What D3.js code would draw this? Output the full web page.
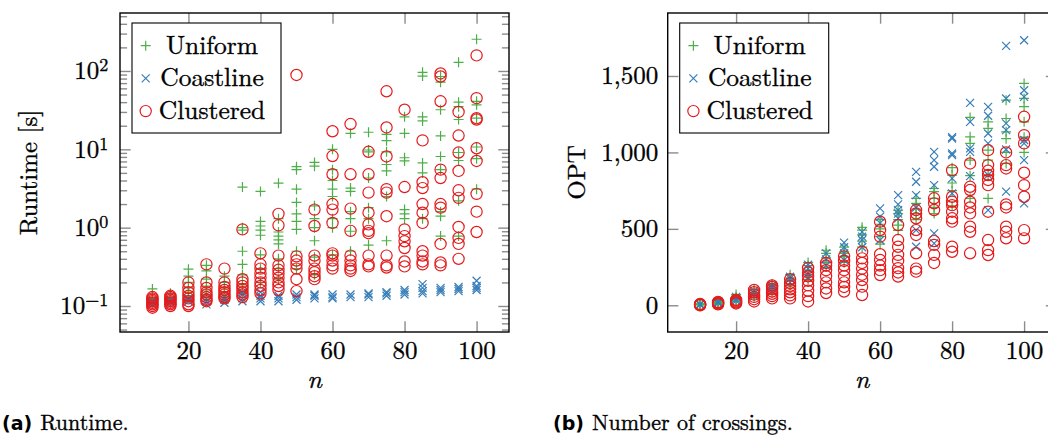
<!DOCTYPE html>
<html>
<head>
<meta charset="utf-8">
<script src="https://cdn.jsdelivr.net/npm/d3@7"></script>
<style>
  body { margin: 0; background: #fff; }
  svg { display: block; }
  text { stroke: #000; stroke-width: 0.35px; }
</style>
</head>
<body>
<svg id="chart" width="1048" height="435"></svg>
<script>
// instance sizes
var nValues = [10, 15, 20, 25, 30, 35, 40, 45, 50, 55, 60, 65, 70, 75, 80, 85, 90, 95, 100];

// runtime in seconds, one list per n
var runtimeUniform = [
  [0.165, 0.125, 0.12, 0.115, 0.11, 0.12],
  [0.145, 0.13, 0.125, 0.12, 0.115, 0.11],
  [0.295, 0.24, 0.2, 0.17, 0.15, 0.135, 0.125],
  [0.33, 0.28, 0.22, 0.18, 0.16, 0.14, 0.13],
  [0.24, 0.2, 0.17, 0.15, 0.14, 0.13],
  [3.3, 1.0, 0.93, 0.5, 0.34, 0.25, 0.18, 0.15],
  [2.9, 1.2, 1.05, 0.93, 0.8, 0.45, 0.3, 0.2],
  [3.7, 1.3, 0.88, 0.78, 0.7, 0.62, 0.4, 0.3, 0.22],
  [6.0, 5.5, 3.1, 2.1, 1.5, 1.2, 0.95, 0.5, 0.3],
  [6.8, 6.1, 1.9, 1.3, 1.0, 0.68, 0.42, 0.25],
  [10, 5.5, 4.0, 3.1, 2.5, 1.3, 1.0, 0.45],
  [16, 3.2, 2.9, 1.6, 1.3, 0.9, 0.5],
  [16.5, 9.8, 9.3, 4.3, 1.8, 1.3, 0.6],
  [15.5, 12.9, 9.3, 6.4, 5.3, 2.5, 0.68],
  [26, 16, 7.8, 7.1, 1.7, 1.5, 1.3],
  [96, 86, 26, 23, 6.7, 5.0, 1.3],
  [85, 72, 32, 14.8, 8.1, 5.5, 1.6, 1.4, 0.78],
  [129, 40, 35, 24, 9.1, 7.2, 2.2, 0.78],
  [254, 41, 37, 25, 10.7, 7.6, 3.1]
];
var runtimeCoastline = [
  [0.105, 0.11, 0.115],
  [0.11, 0.115, 0.12],
  [0.115, 0.12, 0.125],
  [0.105, 0.115, 0.125],
  [0.11, 0.12, 0.13],
  [0.115, 0.125, 0.14, 0.15],
  [0.115, 0.125, 0.135, 0.15],
  [0.115, 0.125, 0.135],
  [0.12, 0.13, 0.14],
  [0.125, 0.135, 0.14],
  [0.125, 0.13, 0.14],
  [0.13, 0.14],
  [0.13, 0.14, 0.145],
  [0.135, 0.145, 0.15],
  [0.14, 0.15, 0.16],
  [0.145, 0.155, 0.17, 0.19],
  [0.15, 0.16, 0.17],
  [0.155, 0.165, 0.175],
  [0.16, 0.17, 0.18, 0.21]
];
var runtimeClustered = [
  [0.095, 0.1, 0.105, 0.11, 0.115, 0.12, 0.125, 0.13],
  [0.1, 0.105, 0.11, 0.115, 0.12, 0.125, 0.13, 0.135],
  [0.2, 0.17, 0.15, 0.135, 0.125, 0.115, 0.105, 0.1],
  [0.34, 0.2, 0.17, 0.15, 0.14, 0.13, 0.12, 0.115],
  [0.3, 0.2, 0.175, 0.16, 0.15, 0.14, 0.13, 0.125],
  [0.95, 0.22, 0.2, 0.18, 0.165, 0.15, 0.14, 0.13],
  [0.47, 0.34, 0.3, 0.26, 0.23, 0.2, 0.18, 0.16, 0.145],
  [1.5, 1.07, 0.44, 0.33, 0.29, 0.26, 0.23, 0.2, 0.18, 0.16],
  [89, 0.43, 0.38, 0.34, 0.3, 0.22, 0.155],
  [1.7, 1.05, 0.44, 0.38, 0.3, 0.27, 0.24, 0.22],
  [17, 8.2, 4.8, 2.0, 1.7, 1.15, 0.47, 0.44, 0.38, 0.33, 0.3],
  [21, 4.8, 1.75, 0.91, 0.44, 0.38, 0.33, 0.3, 0.28],
  [9.3, 4.8, 2.8, 1.55, 1.1, 0.91, 0.85, 0.44, 0.34, 0.32],
  [55, 19, 8.1, 3.1, 2.8, 1.4, 0.44, 0.33, 0.31],
  [32, 3.3, 0.95, 0.78, 0.67, 0.55, 0.37, 0.32],
  [13, 3.8, 3.2, 2.0, 1.55, 1.15, 0.5, 0.44, 0.37, 0.34],
  [93, 85, 41, 5.5, 4.3, 2.0, 1.8, 0.62, 0.36, 0.33],
  [30, 15, 9.1, 5.3, 3.0, 2.4, 1.02, 0.74, 0.62, 0.4],
  [158, 45, 25, 24, 10.3, 7.1, 2.7, 1.6, 0.88]
];

// number of crossings (OPT), one list per n
var optUniform = [
  [2, 4, 6, 8, 10],
  [10, 14, 18, 22, 26],
  [25, 35, 45, 55, 70],
  [50, 65, 80, 95, 100],
  [80, 100, 115, 130, 140],
  [130, 160, 180, 200],
  [170, 200, 230, 260, 280],
  [250, 280, 310, 340, 360],
  [280, 320, 340, 350, 380],
  [380, 420, 460, 492, 510],
  [400, 450, 500, 530, 560],
  [490, 525, 560, 600, 623],
  [560, 600, 630, 667, 700],
  [600, 640, 700, 743, 764],
  [650, 750, 800, 852, 900],
  [700, 848, 950, 1059, 1102, 1229],
  [699, 850, 950, 1015, 1157, 1200],
  [928, 1000, 1090, 1135, 1222, 1342],
  [1000, 1100, 1200, 1300, 1353, 1451]
];
var optCoastline = [
  [3, 6, 9],
  [14, 20, 26],
  [30, 42, 55],
  [60, 80, 95],
  [95, 115, 131],
  [150, 175, 187],
  [180, 210, 240, 265],
  [260, 300, 340],
  [296, 340, 380, 410],
  [380, 427, 449, 480],
  [427, 537, 580, 634],
  [569, 600, 623, 660, 721],
  [383, 492, 640, 721, 808, 873],
  [405, 470, 786, 906, 950, 1004],
  [732, 830, 982, 993, 1091, 1100],
  [845, 1004, 1026, 1200, 1324],
  [623, 852, 1059, 1124, 1240, 1298],
  [744, 1019, 1146, 1190, 1353, 1697],
  [667, 950, 1059, 1081, 1363, 1407, 1734]
];
var optClustered = [
  [0, 2, 4, 6, 8],
  [6, 10, 14, 18, 22],
  [12, 18, 24, 30, 36],
  [25, 40, 55, 70, 85, 100],
  [45, 60, 75, 90, 105, 120, 130],
  [45, 65, 85, 105, 125, 145, 170],
  [25, 60, 95, 130, 160, 190, 215, 244],
  [80, 110, 150, 190, 230, 260, 277],
  [90, 120, 150, 190, 230, 260, 290, 320],
  [67, 122, 165, 200, 240, 277, 307, 350],
  [198, 230, 260, 296, 334, 449, 492, 547],
  [188, 215, 243, 290, 330, 383, 427, 525],
  [220, 240, 340, 460, 492, 569, 600, 623],
  [277, 330, 395, 420, 623, 667, 700],
  [350, 383, 547, 569, 612, 655, 677, 710, 884],
  [340, 481, 514, 601, 640, 677, 754, 775, 928],
  [329, 361, 427, 612, 786, 820, 852, 880, 917, 1015],
  [438, 481, 514, 640, 660, 895, 917, 1000],
  [438, 492, 710, 786, 867, 1059, 1113, 1233]
];

var seriesNames = ["Uniform", "Coastline", "Clustered"];
var xTicks = [20, 40, 60, 80, 100];
var optTicks = [0, 500, 1000, 1500];
var logMajor = [0.1, 1, 10, 100];

var colors = { Uniform: "#4daf4a", Coastline: "#377eb8", Clustered: "#e41a1c" };
var markPath = {
  Uniform: "M-5,0H5M0,-5V5",
  Coastline: "M-4,-4L4,4M-4,4L4,-4"
};

var serif = "'Latin Modern Roman', 'Liberation Serif', serif";
var svg = d3.select("#chart");
var tickLen = 10.7, minorLen = 7.1;

function flatten(lists) {
  var out = [];
  lists.forEach(function(vals, i) {
    vals.forEach(function(v) { out.push({ n: nValues[i], v: v }); });
  });
  return out;
}

function drawMarks(g, name, data, x, y) {
  if (name == "Clustered") {
    g.selectAll(".m-" + name).data(data).enter().append("circle")
      .attr("class", "m-" + name)
      .attr("cx", function(d) { return x(d.n); })
      .attr("cy", function(d) { return y(d.v); })
      .attr("r", 5.6)
      .attr("fill", "none")
      .attr("stroke", colors[name])
      .attr("stroke-width", 1.2);
  } else {
    g.selectAll(".m-" + name).data(data).enter().append("path")
      .attr("class", "m-" + name)
      .attr("transform", function(d) { return "translate(" + x(d.n) + "," + y(d.v) + ")"; })
      .attr("d", markPath[name])
      .attr("fill", "none")
      .attr("stroke", colors[name])
      .attr("stroke-width", 1.2);
  }
}

function styleAxis(sel) {
  sel.attr("font-family", serif);
  sel.select(".domain").remove();
  sel.selectAll(".tick line").attr("stroke", "#8c8c8c").attr("stroke-width", 1.4);
  sel.selectAll(".tick text").attr("font-family", serif).attr("font-size", 25).attr("fill", "#000");
}

function drawPanel(p) {
  var x = d3.scaleLinear().domain([1, 109]).range([p.left, p.right]);
  var y = p.y;
  var g = svg.append("g");

  // inward ticks on all four sides
  g.append("g").attr("transform", "translate(0," + p.bottom + ")")
    .call(d3.axisBottom(x).tickValues(xTicks).tickSize(-tickLen).tickPadding(9.5))
    .call(styleAxis);
  g.append("g").attr("transform", "translate(0," + p.top + ")")
    .call(d3.axisTop(x).tickValues(xTicks).tickSize(-tickLen).tickFormat(""))
    .call(styleAxis);

  if (p.log) {
    var minor = [];
    [0.01, 0.1, 1, 10, 100].forEach(function(b) {
      for (var k = 2; k <= 9; k++) {
        var v = b * k;
        if (v > y.domain()[0] && v < y.domain()[1]) minor.push(v);
      }
    });
    [[d3.axisLeft, p.left], [d3.axisRight, p.right]].forEach(function(a) {
      g.append("g").attr("transform", "translate(" + a[1] + ",0)")
        .call(a[0](y).tickValues(minor).tickSize(-minorLen).tickFormat(""))
        .call(styleAxis);
    });
    var left = g.append("g").attr("transform", "translate(" + p.left + ",0)")
      .call(d3.axisLeft(y).tickValues(logMajor).tickSize(-tickLen).tickPadding(11.7))
      .call(styleAxis);
    left.selectAll(".tick text").each(function(d) {
      var t = d3.select(this).text("10");
      t.append("tspan").attr("dy", "-0.45em").attr("font-size", 18)
        .text(String(Math.round(Math.log10(d))).replace("-", "\u2212"));
    });
    g.append("g").attr("transform", "translate(" + p.right + ",0)")
      .call(d3.axisRight(y).tickValues(logMajor).tickSize(-tickLen).tickFormat(""))
      .call(styleAxis);
  } else {
    g.append("g").attr("transform", "translate(" + p.left + ",0)")
      .call(d3.axisLeft(y).tickValues(optTicks).tickSize(-tickLen).tickPadding(9.4).tickFormat(d3.format(",")))
      .call(styleAxis);
    g.append("g").attr("transform", "translate(" + p.right + ",0)")
      .call(d3.axisRight(y).tickValues(optTicks).tickSize(-tickLen).tickFormat(""))
      .call(styleAxis);
  }

  // markers in plot order: Uniform, Coastline, Clustered
  p.series.forEach(function(s, i) {
    drawMarks(g, seriesNames[i], flatten(s), x, y);
  });

  // frame
  g.append("rect")
    .attr("x", p.left).attr("y", p.top)
    .attr("width", p.right - p.left).attr("height", p.bottom - p.top)
    .attr("fill", "none").attr("stroke", "#000").attr("stroke-width", 1.4);

  // legend
  var lg = g.append("g").attr("transform", "translate(" + (p.left + 12) + ",23)");
  lg.append("rect").attr("width", 149).attr("height", 110)
    .attr("fill", "#fff").attr("stroke", "#000").attr("stroke-width", 1.1);
  seriesNames.forEach(function(name, i) {
    var cy = 22.7 + i * 32.7;
    drawMarks(lg, name, [{ n: 0, v: 0 }],
      function() { return 13.7; }, function() { return cy; });
    lg.append("text").attr("x", 80).attr("y", cy + 7.8)
      .attr("text-anchor", "middle").attr("font-family", serif).attr("font-size", 25.5).text(name);
  });

  // axis labels
  svg.append("text")
    .attr("x", (p.left + p.right) / 2).attr("y", 388)
    .attr("text-anchor", "middle").attr("font-family", serif).attr("font-size", 26).attr("font-style", "italic")
    .text("n");
  svg.append("text")
    .attr("transform", "translate(" + p.ylabelX + "," + ((p.top + p.bottom) / 2) + ") rotate(-90)")
    .attr("text-anchor", "middle").attr("font-family", serif).attr("font-size", 25)
    .text(p.ylabel);

  // caption
  var cap = svg.append("text").attr("x", p.capX).attr("y", 430).attr("font-family", serif).attr("font-size", 22);
  cap.append("tspan").attr("font-family", "'DejaVu Sans'").attr("font-weight", "bold")
    .attr("stroke-width", 0).attr("font-size", 19).text(p.capTag);
  cap.append("tspan").attr("dx", 8).text(p.capText);
}

drawPanel({
  left: 120, right: 509, top: 13, bottom: 332,
  y: d3.scaleLog().domain([0.04656, 549.5]).range([332, 13]),
  log: true,
  series: [runtimeUniform, runtimeCoastline, runtimeClustered],
  ylabel: "Runtime [s]", ylabelX: 36.5,
  capX: 2, capTag: "(a)", capText: "Runtime."
});

drawPanel({
  left: 667.7, right: 1056.5, top: 13, bottom: 332,
  y: d3.scaleLinear().domain([-174.7, 1912]).range([332, 13]),
  log: false,
  series: [optUniform, optCoastline, optClustered],
  ylabel: "OPT", ylabelX: 585,
  capX: 553, capTag: "(b)", capText: "Number of crossings."
});
</script>
</body>
</html>
